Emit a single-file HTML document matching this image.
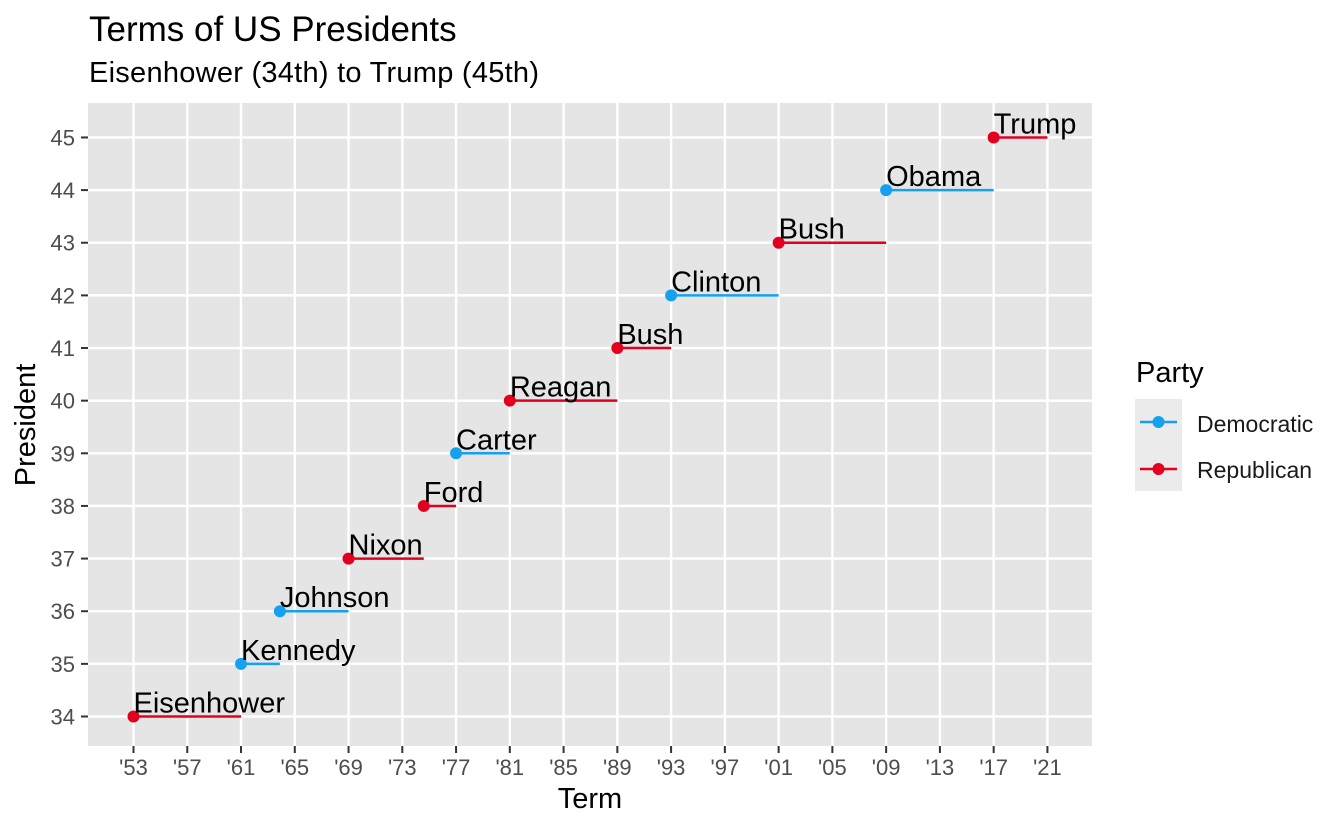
<!DOCTYPE html>
<html><head><meta charset="utf-8"><style>html,body{margin:0;padding:0;background:#fff}</style></head>
<body>
<svg width="1344" height="830" xmlns="http://www.w3.org/2000/svg" font-family="'Liberation Sans', Arial, sans-serif">
<rect width="1344" height="830" fill="#fff"/>
<text x="89" y="41" font-size="35" fill="#000">Terms of US Presidents</text>
<text x="89" y="82" font-size="29" fill="#000" textLength="450">Eisenhower (34th) to Trump (45th)</text>
<rect x="88" y="103" width="1004" height="643" fill="#e5e5e5"/>
<g stroke="#fff" stroke-width="2.4" id="grid"></g>
<g id="ticks"></g>
<g id="data"></g>
<text x="590" y="808" font-size="29" text-anchor="middle">Term</text>
<text transform="translate(35,425) rotate(-90)" font-size="29" text-anchor="middle">President</text>
<text x="1136" y="382" font-size="29">Party</text>
<rect x="1135" y="399" width="47" height="92" fill="#ebebeb"/>
<line x1="1140" x2="1177" y1="422" y2="422" stroke="#16a0f0" stroke-width="2.5"/>
<circle cx="1158.5" cy="422" r="6" fill="#16a0f0"/>
<line x1="1140" x2="1177" y1="469" y2="469" stroke="#e3001e" stroke-width="2.5"/>
<circle cx="1158.5" cy="469" r="6" fill="#e3001e"/>
<text x="1197" y="432" font-size="23" fill="#1a1a1a">Democratic</text>
<text x="1197" y="478" font-size="23" fill="#1a1a1a">Republican</text>
<script>
const NS="http://www.w3.org/2000/svg";
function el(p,t,a,txt){const e=document.createElementNS(NS,t);for(const k in a)e.setAttribute(k,a[k]);if(txt!==undefined)e.textContent=txt;p.appendChild(e);return e;}
const X=y=>133.5+(y-1953)*13.44, Y=n=>716.5-(n-34)*52.64;
const g=document.getElementById('grid'),tk=document.getElementById('ticks'),d=document.getElementById('data');
for(let n=34;n<=45;n++){el(g,'line',{x1:88,x2:1092,y1:Y(n),y2:Y(n)});
 el(tk,'line',{x1:81,x2:88,y1:Y(n),y2:Y(n),stroke:'#333','stroke-width':2});
 el(tk,'text',{x:75,y:Y(n)+8,'font-size':22,'text-anchor':'end',fill:'#4d4d4d'},n);}
for(let yr=1953;yr<=2021;yr+=4){el(g,'line',{x1:X(yr),x2:X(yr),y1:103,y2:746});
 el(tk,'line',{x1:X(yr),x2:X(yr),y1:746,y2:753,stroke:'#333','stroke-width':2});
 el(tk,'text',{x:X(yr),y:775,'font-size':22,'text-anchor':'middle',fill:'#4d4d4d'},"'"+String(yr%100).padStart(2,'0'));}
const B='#16a0f0',R='#e3001e';
const P=[["Eisenhower",1953,1961,R],["Kennedy",1961,1963.89,B],["Johnson",1963.89,1969,B],["Nixon",1969,1974.6,R],["Ford",1974.6,1977,R],["Carter",1977,1981,B],["Reagan",1981,1989,R],["Bush",1989,1993,R],["Clinton",1993,2001,B],["Bush",2001,2009,R],["Obama",2009,2017,B],["Trump",2017,2021,R]];
P.forEach((p,i)=>{const n=34+i,y=Y(n);
 el(d,'line',{x1:X(p[1]),x2:X(p[2]),y1:y,y2:y,stroke:p[3],'stroke-width':2.5});
 el(d,'circle',{cx:X(p[1]),cy:y,r:6,fill:p[3]});
 el(d,'text',{x:X(p[1]),y:y-4,'font-size':29,fill:'#000'},p[0]);});
</script>
</svg>
</body></html>
